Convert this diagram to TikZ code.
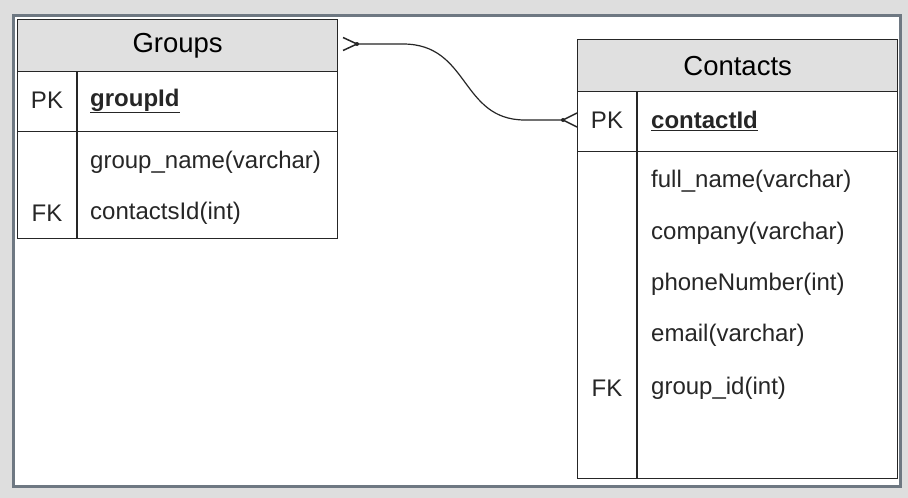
\documentclass[tikz,border=0pt]{standalone}
\usepackage{fontspec}
\setmainfont{Liberation Sans}
\begin{document}
\begin{tikzpicture}[x=1pt,y=-1pt,
  tbl/.style={draw=black!85,line width=1.3pt,inner sep=0pt},
  hdr/.style={tbl,fill=hdrgray,font=\fontsize{27.5}{30}\selectfont},
  fld/.style={inner sep=0pt,anchor=west,font=\fontsize{24}{26}\selectfont,text=black!85},
  key/.style={inner sep=0pt,font=\fontsize{24}{26}\selectfont,text=black!85},
  rel/.style={draw=black!85,line width=1.2pt},
  dotm/.style={circle,fill=black!85,inner sep=0pt,minimum size=4pt}]
\definecolor{bggray}{HTML}{DEDEDE}
\definecolor{hdrgray}{HTML}{E0E0E0}
\definecolor{frame}{HTML}{6E7882}
\fill[bggray] (0,0) rectangle (908,498);
\useasboundingbox (0,0) rectangle (908,498);
\draw[frame,line width=3pt,fill=white] (13.5,15.5) rectangle (900.5,486.5);
% Groups table
\node[hdr,minimum width=320pt,minimum height=52pt,anchor=north west] (gh) at (17,19) {Groups};
\node[tbl,minimum width=320pt,minimum height=60pt,anchor=north west] (gpk) at (17,71) {};
\node[tbl,minimum width=320pt,minimum height=107pt,anchor=north west] (gb) at (17,131) {};
\draw[tbl] (gpk.north west) ++(60,0) coordinate (gd1) -- (gd1 |- gb.south);
\node[key] (gpkl) at (47,100) {PK};
\node[fld] (gid) at (90,101) {\bfseries\underline{groupId}};
\node[fld] (gname) at (90,162) {group\_name(varchar)};
\node[key] (gfk) at (47,213) {FK};
\node[fld] (gcid) at (90,213) {contactsId(int)};
% Contacts table
\node[hdr,minimum width=320pt,minimum height=52pt,anchor=north west] (ch) at (577,39) {Contacts};
\node[tbl,minimum width=320pt,minimum height=60pt,anchor=north west] (cpk) at (577,91) {};
\node[tbl,minimum width=320pt,minimum height=327pt,anchor=north west] (cb) at (577,151) {};
\draw[tbl] (cpk.north west) ++(60,0) coordinate (cd1) -- (cd1 |- cb.south);
\node[key] (cpkl) at (607,120) {PK};
\node[fld] (cid) at (651,121) {\bfseries\underline{contactId}};
\node[fld] (cfn) at (651,181) {full\_name(varchar)};
\node[fld] (cco) at (651,233) {company(varchar)};
\node[fld] (cph) at (651,284) {phoneNumber(int)};
\node[fld] (cem) at (651,335) {email(varchar)};
\node[key] (cfk) at (607,388) {FK};
\node[fld] (cgi) at (651,388) {group\_id(int)};
% relation
\coordinate (gt) at (357,44);
\coordinate (ct) at (563,120);
\draw[rel] (gt) -- (403,44) .. controls (470,44) and (460,120) .. (525,120) -- (ct);
\draw[rel,line width=1.5pt] (343,37.5) -- (gt) -- (343,50.5);
\draw[rel,line width=1.5pt] (577,113) -- (ct) -- (577,127);
\node[dotm] (gdot) at (gt) {};
\node[dotm] (cdot) at (ct) {};
\end{tikzpicture}
\end{document}
